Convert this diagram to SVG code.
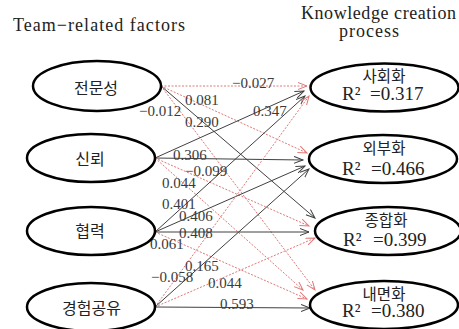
<svg xmlns="http://www.w3.org/2000/svg" width="459" height="329" viewBox="0 0 459 329">
<defs>
<style>
.node{fill:#fff;stroke:#000;stroke-width:2.5}
.kr{font-family:"Noto Sans CJK KR","Noto Sans",sans-serif;font-size:16px;fill:#222;text-anchor:middle}
.kr2{font-family:"Noto Sans CJK KR","Noto Sans",sans-serif;font-size:15.5px;fill:#222;text-anchor:middle}
.lat{font-family:"Liberation Serif","DejaVu Serif",serif;fill:#222}
.r2{font-family:"Liberation Serif","DejaVu Serif",serif;font-size:19px;fill:#222}
.lbl{font-family:"Liberation Serif","DejaVu Serif",serif;font-size:15px;fill:#3a3a3a}
.k{stroke:#404040;stroke-width:1;fill:none;marker-end:url(#ak)}
.r{stroke:#e07878;stroke-width:1;stroke-dasharray:2 1.5;fill:none;marker-end:url(#ar)}
</style>
<marker id="ak" markerUnits="userSpaceOnUse" markerWidth="11" markerHeight="9" refX="9" refY="4" orient="auto">
<path d="M0,0.5 L9,4 L0,7.5" fill="none" stroke="#404040" stroke-width="1"/>
</marker>
<marker id="ar" markerUnits="userSpaceOnUse" markerWidth="11" markerHeight="9" refX="9" refY="4" orient="auto">
<path d="M0,0.5 L9,4 L0,7.5" fill="none" stroke="#e07878" stroke-width="1"/>
</marker>
</defs>
<rect width="459" height="329" fill="#fff"/>
<text class="lat" x="13" y="31" font-size="18" textLength="172" lengthAdjust="spacing">Team−related factors</text>
<text class="lat" x="301" y="19" font-size="18" textLength="155" lengthAdjust="spacing">Knowledge creation</text>
<text class="lat" x="339" y="37" font-size="18" textLength="60" lengthAdjust="spacing">process</text>

<g id="connectors">
<line class="r" x1="161" y1="86" x2="307" y2="86"/>
<line class="r" x1="161" y1="86" x2="307" y2="153"/>
<line class="k" x1="161" y1="86" x2="315" y2="218"/>
<line class="r" x1="161" y1="86" x2="315" y2="290"/>
<line class="k" x1="155" y1="158" x2="304" y2="91"/>
<line class="k" x1="155" y1="158" x2="303" y2="160"/>
<line class="r" x1="155" y1="158" x2="309" y2="226"/>
<line class="r" x1="155" y1="158" x2="303" y2="290"/>
<line class="k" x1="155" y1="232" x2="305" y2="96"/>
<line class="k" x1="155" y1="232" x2="305" y2="166"/>
<line class="k" x1="155" y1="232" x2="309" y2="232"/>
<line class="r" x1="155" y1="232" x2="307" y2="299"/>
<line class="r" x1="155" y1="307" x2="309" y2="96"/>
<line class="k" x1="155" y1="307" x2="309" y2="169"/>
<line class="r" x1="155" y1="307" x2="315" y2="238"/>
<line class="k" x1="155" y1="307" x2="310" y2="308"/>
</g>

<g id="edge-labels">
<text class="lbl" x="232" y="88">−0.027</text>
<text class="lbl" x="185" y="105">0.081</text>
<text class="lbl" x="139" y="116">−0.012</text>
<text class="lbl" x="185" y="127">0.290</text>
<text class="lbl" x="253" y="116">0.347</text>
<text class="lbl" x="173" y="160">0.306</text>
<text class="lbl" x="185" y="176">−0.099</text>
<text class="lbl" x="162" y="188">0.044</text>
<text class="lbl" x="162" y="209">0.401</text>
<text class="lbl" x="179" y="221">0.406</text>
<text class="lbl" x="179" y="238">0.408</text>
<text class="lbl" x="150" y="249">0.061</text>
<text class="lbl" x="185" y="271">0.165</text>
<text class="lbl" x="151" y="282">−0.058</text>
<text class="lbl" x="208" y="288">0.044</text>
<text class="lbl" x="220" y="309">0.593</text>
</g>

<g id="n-expertise">
<ellipse class="node" cx="97" cy="86" rx="64" ry="25"/>
<text class="kr" x="96" y="93.5">전문성</text>
</g>
<g id="n-trust">
<ellipse class="node" cx="91" cy="158" rx="64" ry="24"/>
<text class="kr" x="90" y="164.5">신뢰</text>
</g>
<g id="n-cooperation">
<ellipse class="node" cx="91" cy="231" rx="64" ry="24"/>
<text class="kr" x="90" y="236.5">협력</text>
</g>
<g id="n-sharing">
<ellipse class="node" cx="91" cy="307" rx="64" ry="24"/>
<text class="kr" x="91.5" y="313.5">경험공유</text>
</g>

<g id="n-socialization">
<ellipse class="node" cx="384.5" cy="87.5" rx="74" ry="24"/>
<text class="kr2" x="384" y="81.5">사회화</text>
<text class="r2" x="342" y="100">R²<tspan x="370">=0.317</tspan></text>
</g>
<g id="n-externalization">
<ellipse class="node" cx="383" cy="159" rx="74" ry="24"/>
<text class="kr2" x="384" y="153.5">외부화</text>
<text class="r2" x="342" y="175">R²<tspan x="371">=0.466</tspan></text>
</g>
<g id="n-combination">
<ellipse class="node" cx="388" cy="231" rx="73" ry="24"/>
<text class="kr2" x="386" y="226">종합화</text>
<text class="r2" x="343" y="246">R²<tspan x="373">=0.399</tspan></text>
</g>
<g id="n-internalization">
<ellipse class="node" cx="384" cy="305" rx="74" ry="24"/>
<text class="kr2" x="384" y="299.5">내면화</text>
<text class="r2" x="342" y="317">R²<tspan x="371">=0.380</tspan></text>
</g>
</svg>
